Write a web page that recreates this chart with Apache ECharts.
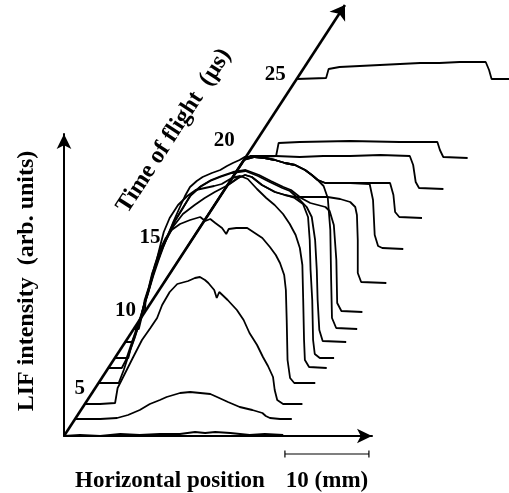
<!DOCTYPE html>
<html>
<head>
    <meta charset="utf-8">
    <title>LIF intensity profiles vs time of flight</title>
    <script type="text/javascript" src="https://cdn.jsdelivr.net/npm/echarts@6/dist/echarts.min.js"></script>
</head>
<body style="margin: 0; background: #fff">
    <div id="container" style="width: 509px; height: 493px"></div>
    <script type="text/javascript">
        // offset of each trace's baseline along the time-of-flight axis (arb. units)
        var offsets = [0, 17, 32, 53, 68, 78, 94, 107, 124, 153, 188, 218, 247, 279, 357];

        // [horizontal position (mm), LIF intensity (arb. units)]
        var trace0 = [[0, 0], [1.9, 1], [4.3, 0], [6.7, 2], [9.0, 1], [11.4, 2], [13.8, 2], [15.6, 4], [16.8, 3], [18.0, 4], [19.8, 3], [22.1, 1], [23.9, 2], [26.1, 1]];
        var trace1 = [[0, 0], [3.0, 0], [5.0, 1], [6.3, 4], [7.7, 9], [8.9, 15], [10.1, 19], [10.9, 22], [12.5, 26], [13.7, 27], [14.9, 26], [16.1, 25], [16.9, 22], [18.2, 17], [19.6, 12], [21.1, 9], [22.3, 6], [22.7, 3], [23.2, 1], [24.4, 0], [25.8, 0]];
        var trace2 = [[0, 0], [1.8, 0], [3.6, 1], [3.9, 16], [4.8, 31], [5.7, 46], [6.8, 64], [7.8, 76], [8.6, 86], [9.2, 99], [10.1, 112], [11.0, 120], [12.3, 123], [13.1, 126], [13.7, 127], [14.3, 124], [14.7, 121], [15.4, 114], [15.7, 106], [16.0, 112], [17.0, 104], [18.1, 94], [18.9, 84], [19.6, 71], [20.5, 59], [21.2, 47], [21.8, 38], [22.4, 27], [22.6, 14], [22.9, 4], [23.6, 0], [25.9, 0]];
        var trace3 = [[0, 0], [2.4, 0], [3.0, 13], [3.7, 31], [4.3, 45], [4.9, 61], [5.4, 78], [6.0, 95], [6.7, 118], [7.3, 133], [8.0, 145], [8.7, 153], [9.7, 159], [10.9, 163], [12.1, 166], [12.7, 162], [13.3, 164], [13.9, 160], [14.7, 155], [15.2, 149], [15.5, 154], [16.4, 155], [17.7, 155], [18.6, 150], [19.5, 145], [20.4, 136], [21.1, 128], [21.6, 120], [22.1, 108], [22.3, 93], [22.4, 63], [22.5, 23], [22.8, 5], [23.3, 0], [25.8, 0]];
        var trace4 = [[0, 0], [1.6, 0], [2.1, 8], [2.7, 23], [3.3, 38], [3.9, 53], [4.5, 70], [5.1, 88], [5.7, 106], [6.2, 123], [6.6, 136], [7.3, 150], [8.3, 163], [9.4, 172], [10.4, 178], [11.5, 180], [12.6, 182], [13.5, 184], [14.7, 190], [15.7, 192], [16.6, 189], [17.7, 179], [18.8, 170], [19.8, 163], [20.8, 154], [21.6, 144], [22.3, 133], [22.8, 120], [23.1, 103], [23.2, 68], [23.3, 28], [23.4, 8], [23.9, 1], [26.0, 0]];
        var trace5 = [[0, 0], [1.6, 0], [1.9, 10], [2.4, 22], [3.0, 38], [3.6, 56], [4.2, 73], [4.8, 90], [5.4, 104], [6.1, 118], [7.0, 132], [8.1, 144], [9.5, 153], [10.7, 160], [11.9, 166], [13.5, 173], [14.7, 180], [15.5, 183], [16.3, 181], [17.5, 173], [19.1, 166], [20.3, 163], [21.4, 160], [22.4, 154], [23.0, 141], [23.2, 118], [23.3, 88], [23.5, 58], [23.6, 18], [23.8, 4], [24.4, 0], [26.1, 0]];
        var trace6 = [[0, 0], [0.8, 0], [1.3, 10], [1.8, 22], [2.2, 35], [2.7, 48], [3.2, 65], [3.8, 80], [4.4, 94], [5.0, 106], [5.8, 120], [6.8, 133], [7.7, 146], [8.9, 155], [10.1, 161], [11.3, 165], [12.7, 169], [14.3, 171], [15.8, 166], [17.2, 160], [18.7, 154], [19.6, 151], [20.8, 142], [21.6, 135], [22.2, 125], [22.6, 102], [22.8, 72], [22.9, 42], [23.1, 12], [23.5, 1], [26.3, 0]];
        var trace7 = [[0, 0], [0.6, 0], [1.0, 14], [1.3, 29], [1.8, 42], [2.2, 56], [2.8, 69], [3.4, 82], [4.0, 92], [4.7, 107], [5.5, 122], [6.1, 133], [6.7, 142], [7.5, 148], [8.2, 152], [9.3, 156], [10.3, 159], [11.1, 163], [11.8, 166], [12.6, 169], [13.2, 172], [14.4, 172], [15.6, 171], [16.8, 169], [18.0, 166], [19.2, 164], [20.4, 159], [21.2, 154], [21.9, 149], [22.6, 143], [23.1, 131], [23.4, 99], [23.5, 49], [23.6, 11], [24.1, 1], [26.6, 0]];
        var trace8 = [[0, 0], [0.1, 12], [0.5, 22], [1.0, 36], [1.6, 51], [2.2, 65], [2.8, 77], [3.6, 91], [4.5, 104], [5.5, 117], [6.7, 126], [7.9, 132], [9.1, 136], [10.5, 140], [12.0, 142], [13.6, 137], [15.0, 131], [16.5, 125], [17.4, 122], [18.6, 114], [19.7, 109], [20.6, 107], [21.5, 105], [22.0, 101], [22.5, 87], [22.8, 52], [22.9, 9], [23.4, 1], [25.9, 0]];
        var trace9 = [[0, 0], [7.6, 98], [8.8, 105], [9.7, 108], [10.5, 106], [11.7, 98], [13.2, 91], [14.4, 88], [15.6, 86], [17.4, 86], [19.5, 86], [21.0, 84], [22.2, 81], [22.8, 76], [23.0, 68], [23.1, 43], [23.1, 10], [23.5, 1], [26.5, 0]];
        var trace10 = [[0, 0], [6.8, 88], [8.1, 91], [9.3, 90], [10.5, 88], [11.7, 85], [12.9, 83], [14.1, 78], [14.9, 73], [15.6, 68], [16.5, 65], [19.5, 65], [21.8, 64], [22.2, 48], [22.4, 13], [22.8, 2], [23.3, 0], [25.8, -1]];
        var trace11 = [[0, 0], [4.5, 58], [5.8, 61], [7.0, 60], [8.2, 58], [9.4, 55], [10.6, 53], [11.8, 48], [12.6, 43], [13.3, 38], [14.2, 35], [17.1, 35], [19.5, 35], [21.9, 35], [22.3, 23], [22.5, 6], [23.0, 1], [25.7, 0]];
        var trace12 = [[0, 0], [2.3, 29], [3.0, 33], [6.0, 33], [8.9, 32], [11.7, 33], [14.9, 33], [18.5, 34], [22.0, 33], [22.4, 24], [22.7, 7], [23.1, 1], [26.0, 0]];
        var trace13 = [[0, 0], [1.9, 0], [3.6, 1], [3.9, 14], [6.4, 15], [12.4, 16], [18.3, 15], [22.8, 15], [23.1, 7], [23.5, 0], [26.4, -1]];
        var trace14 = [[0, 0], [3.5, 1], [3.8, 10], [5.1, 12], [7.5, 13], [9.9, 14], [12.3, 15], [14.7, 16], [17.0, 16], [19.4, 17], [22.5, 17], [22.9, 9], [23.2, 0], [25.3, 0]];
        var traces = [trace0, trace1, trace2, trace3, trace4, trace5, trace6, trace7, trace8, trace9, trace10, trace11, trace12, trace13, trace14];

        // time-of-flight axis: tick labels and where they sit along the axis (arb. units)
        var timeTicks = ['5', '10', '15', '20', '25'];
        var timeTickPos = [47, 125, 198, 295, 361];
        var timeAxisLen = 431;
        var skew = 0.0776;      // mm of horizontal shift per unit of offset (slant of the time axis)

        // how far left of the slanted axis each tick label is set (px)
        var tickLabelGap = [15, 20, 43, 32, 24];

        // scale bar
        var scaleBarStart = 26.3;
        var scaleBarMM = 10;

        var FONT = '"Liberation Serif", "DejaVu Serif", serif';

        var myChart = echarts.init(document.getElementById('container'), null, { renderer: 'canvas' });

        var series = [];
        // waterfall traces, each shifted along the slanted time axis
        traces.forEach(function (tr, i) {
            series.push({
                type: 'line',
                xAxisIndex: 1,
                yAxisIndex: 1,
                symbol: 'none',
                clip: false,
                silent: true,
                lineStyle: { color: '#000', width: 1.8 },
                data: tr.map(function (p) { return [p[0] + offsets[i] * skew, p[1] + offsets[i]]; })
            });
        });
        // slanted time-of-flight axis
        series.push({
            type: 'lines',
            coordinateSystem: 'cartesian2d',
            xAxisIndex: 1,
            yAxisIndex: 1,
            symbol: ['none', 'arrow'],
            symbolSize: 14,
            silent: true,
            lineStyle: { color: '#000', width: 2.6, opacity: 1 },
            data: [{ coords: [[0, 0], [timeAxisLen * skew, timeAxisLen]] }]
        });
        // tick labels on the time axis
        series.push({
            type: 'scatter',
            xAxisIndex: 1,
            yAxisIndex: 1,
            symbolSize: 0,
            silent: true,
            itemStyle: { opacity: 1 },
            label: {
                show: true,
                position: 'inside',
                color: '#000',
                opacity: 1,
                fontFamily: FONT,
                fontWeight: 'bold',
                fontSize: 21,
                formatter: function (p) { return timeTicks[p.dataIndex]; }
            },
            data: timeTickPos.map(function (b, i) {
                return { value: [b * skew, b], label: { offset: [-tickLabelGap[i], 0] } };
            })
        });
        // 10 mm scale bar
        series.push({
            type: 'line',
            xAxisIndex: 1,
            yAxisIndex: 1,
            symbol: 'none',
            clip: false,
            silent: true,
            lineStyle: { color: '#000', width: 1.2 },
            data: [[scaleBarStart, -14.5], [scaleBarStart, -21.5], [scaleBarStart, -18],
                   [scaleBarStart + scaleBarMM, -18], [scaleBarStart + scaleBarMM, -14.5], [scaleBarStart + scaleBarMM, -21.5]]
        });

        var plainAxis = {
            axisTick: { show: false },
            axisLabel: { show: false },
            splitLine: { show: false }
        };

        var option = {
            animation: false,
            backgroundColor: '#fff',
            grid: [
                // the two straight axes
                { left: 64, top: 134, width: 308, height: 302 },
                // drawing area for the traces: 8.4 px per mm, 1 px per arb. unit
                { left: 64, top: 0, width: 445, height: 436 }
            ],
            xAxis: [
                Object.assign({
                    gridIndex: 0, type: 'value', min: 0, max: 1,
                    axisLine: { show: true, onZero: false, symbol: ['none', 'arrow'], symbolSize: [11, 15], lineStyle: { color: '#000', width: 2 } }
                }, plainAxis),
                Object.assign({ gridIndex: 1, type: 'value', min: 0, max: 445 / 8.4, show: false }, plainAxis)
            ],
            yAxis: [
                Object.assign({
                    gridIndex: 0, type: 'value', min: 0, max: 1,
                    axisLine: { show: true, onZero: false, symbol: ['none', 'arrow'], symbolSize: [11, 15], lineStyle: { color: '#000', width: 2 } }
                }, plainAxis),
                Object.assign({ gridIndex: 1, type: 'value', min: 0, max: 436, show: false }, plainAxis)
            ],
            graphic: [
                {
                    type: 'text', x: 27, y: 281, rotation: Math.PI / 2,
                    style: { text: 'LIF intensity  (arb. units)', font: 'bold 24px ' + FONT, fill: '#000', align: 'center', verticalAlign: 'middle' }
                },
                {
                    type: 'text', x: 170, y: 481,
                    style: { text: 'Horizontal position', font: 'bold 23px ' + FONT, fill: '#000', align: 'center', verticalAlign: 'middle' }
                },
                {
                    type: 'text', x: 327, y: 481,
                    style: { text: '10 (mm)', font: 'bold 23px ' + FONT, fill: '#000', align: 'center', verticalAlign: 'middle' }
                },
                {
                    type: 'text', x: 174, y: 131, rotation: 57 * Math.PI / 180,
                    style: { text: 'Time of flight  (\u00b5s)', font: 'bold 24px ' + FONT, fill: '#000', align: 'center', verticalAlign: 'middle' }
                }
            ],
            series: series
        };

        myChart.setOption(option);
    </script>
</body>
</html>
